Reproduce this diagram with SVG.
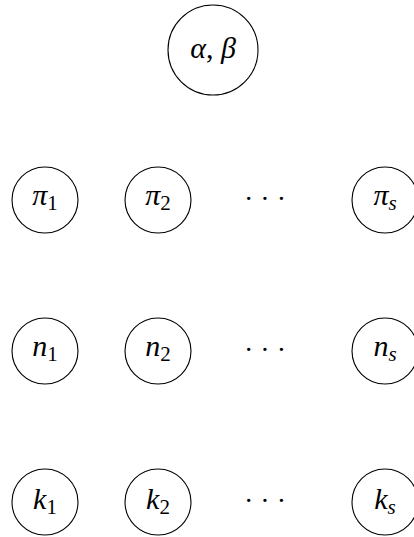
<svg xmlns="http://www.w3.org/2000/svg" width="414" height="537" viewBox="0 0 414 537">
  <style>
    .node circle { fill: #ffffff; stroke: #000000; stroke-width: 1.1; }
    .lbl { font-family: 'Liberation Serif', 'Times New Roman', serif; font-size: 30px; fill: #000000; text-anchor: middle; }
    .v { font-style: italic; }
    .sub { font-size: 21px; font-style: normal; }
    .subi { font-size: 21px; font-style: italic; }
    .dots { font-family: 'Liberation Serif', serif; font-size: 28px; fill: #000000; letter-spacing: 7px; }
  </style>
  <rect width="414" height="537" fill="#ffffff"/>
  <g id="connectors"></g>

  <g id="node-alpha-beta" class="node">
    <circle cx="213" cy="50" r="45"/>
    <text class="lbl" x="213" y="58"><tspan class="v">α</tspan>, <tspan class="v">β</tspan></text>
  </g>

  <g id="node-pi1" class="node">
    <circle cx="45" cy="200" r="33"/>
    <text class="lbl" x="45" y="205"><tspan class="v">π</tspan><tspan class="sub" dy="5">1</tspan></text>
  </g>
  <g id="node-pi2" class="node">
    <circle cx="158" cy="200" r="33"/>
    <text class="lbl" x="158" y="205"><tspan class="v">π</tspan><tspan class="sub" dy="5">2</tspan></text>
  </g>
  <g id="node-pis" class="node">
    <circle cx="385" cy="200" r="33"/>
    <text class="lbl" x="385" y="205"><tspan class="v">π</tspan><tspan class="subi" dy="5">s</tspan></text>
  </g>
  <text id="dots-pi" class="dots" x="244" y="208">···</text>

  <g id="node-n1" class="node">
    <circle cx="45" cy="351" r="33"/>
    <text class="lbl" x="45" y="356"><tspan class="v">n</tspan><tspan class="sub" dy="5">1</tspan></text>
  </g>
  <g id="node-n2" class="node">
    <circle cx="158" cy="351" r="33"/>
    <text class="lbl" x="158" y="356"><tspan class="v">n</tspan><tspan class="sub" dy="5">2</tspan></text>
  </g>
  <g id="node-ns" class="node">
    <circle cx="385" cy="351" r="33"/>
    <text class="lbl" x="385" y="356"><tspan class="v">n</tspan><tspan class="subi" dy="5">s</tspan></text>
  </g>
  <text id="dots-n" class="dots" x="244" y="359">···</text>

  <g id="node-k1" class="node">
    <circle cx="45" cy="502" r="33"/>
    <text class="lbl" x="45" y="509"><tspan class="v">k</tspan><tspan class="sub" dy="5">1</tspan></text>
  </g>
  <g id="node-k2" class="node">
    <circle cx="158" cy="502" r="33"/>
    <text class="lbl" x="158" y="509"><tspan class="v">k</tspan><tspan class="sub" dy="5">2</tspan></text>
  </g>
  <g id="node-ks" class="node">
    <circle cx="385" cy="502" r="33"/>
    <text class="lbl" x="385" y="509"><tspan class="v">k</tspan><tspan class="subi" dy="5">s</tspan></text>
  </g>
  <text id="dots-k" class="dots" x="244" y="510">···</text>
</svg>
